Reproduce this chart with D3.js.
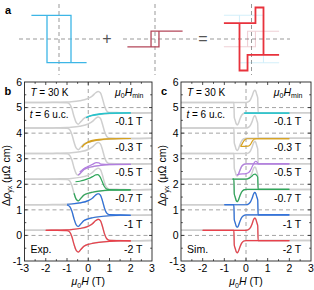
<!DOCTYPE html>
<html>
<head>
<meta charset="utf-8">
<script src="https://cdn.jsdelivr.net/npm/d3@7"></script>
<style>
  body { margin: 0; background: #fff; }
  text { font-family: "Liberation Sans", Arial, sans-serif; }
</style>
</head>
<body>
<script>
// ---- data ----

let hTicks = [-3, -2, -1, 0, 1, 2, 3];
let rhoTicks = [-1, 0, 1, 2, 3, 4, 5, 6];
let hminLabels = ["-0.1 T", "-0.3 T", "-0.5 T", "-0.7 T", "-1 T", "-2 T"];
let offsets = [5, 4, 3, 2, 1, 0];
let hminValues = [-0.1, -0.3, -0.5, -0.7, -1, -2];

// schematic loops (panel a), [H, M]
let loopBlue = [[-2.3, 1], [1, 1], [1, -1], [2.3, -1], [-1, -1], [-1, 1]];
let loopRed = [[-2.3, -0.33], [0.33, -0.33], [0.33, 0.33], [2.3, 0.33], [-0.33, 0.33], [-0.33, -0.33]];
let loopSum = [[-2.3, 0.67], [0.33, 0.67], [0.33, 1.33], [1, 1.33], [1, -0.67], [2.3, -0.67],
               [-0.33, -0.67], [-0.33, -1.33], [-1, -1.33], [-1, 0.67]];

// experiment, full loop (gray), relative to offset
let expFullUp = [[-3, 0.2], [-2, 0.2], [-1.5, 0.21], [-1, 0.22], [-0.8, 0.23], [-0.4, 0.27], [0, 0.36], [0.2, 0.46],
  [0.35, 0.58], [0.47, 0.63], [0.57, 0.58], [0.67, 0.35], [0.77, 0.05], [0.87, -0.13], [1, -0.19], [1.5, -0.2], [2, -0.21], [3, -0.2]];
let expFullDown = [[-3, 0.2], [-2, 0.2], [-1.5, 0.2], [-1, 0.19], [-0.87, 0.13], [-0.77, -0.05], [-0.67, -0.35],
  [-0.57, -0.58], [-0.47, -0.65], [-0.35, -0.55], [-0.2, -0.42], [0, -0.35], [0.2, -0.31], [0.5, -0.27], [1, -0.23], [1.5, -0.21], [2, -0.21], [3, -0.2]];

// experiment, minor loops
let expCyanUp = [[-0.1, -0.4], [0, -0.35], [0.2, -0.29], [0.5, -0.25], [1, -0.22], [2, -0.21]];
let expCyanDown = [[-0.1, -0.4], [0, -0.36], [0.2, -0.31], [0.5, -0.27], [1, -0.23], [2, -0.21]];
let expGoldUp = [[-0.3, -0.55], [-0.2, -0.46], [0, -0.34], [0.2, -0.28], [0.5, -0.24], [1, -0.22], [2, -0.21]];
let expGoldDown = [[-0.3, -0.55], [-0.2, -0.45], [0, -0.36], [0.2, -0.31], [0.5, -0.27], [1, -0.23], [2, -0.21]];
let expPurpleUp = [[-0.52, -0.63], [-0.4, -0.52], [-0.2, -0.38], [0, -0.3], [0.2, -0.22], [0.38, -0.15], [0.5, -0.16],
  [0.6, -0.21], [1, -0.22], [2, -0.22]];
let expPurpleDown = [[-0.52, -0.63], [-0.47, -0.64], [-0.35, -0.55], [-0.2, -0.42], [0, -0.35], [0.2, -0.31],
  [0.5, -0.27], [1, -0.23], [2, -0.22]];
let expGreenUp = [[-0.78, 0.1], [-0.6, 0.1], [-0.4, 0.12], [-0.2, 0.16], [0, 0.22], [0.2, 0.3], [0.35, 0.37],
  [0.45, 0.38], [0.55, 0.3], [0.65, 0.12], [0.75, -0.08], [0.85, -0.18], [1, -0.21], [2, -0.22]];
let expGreenDown = [[-0.78, 0.1], [-0.75, -0.05], [-0.67, -0.35], [-0.57, -0.58], [-0.47, -0.65], [-0.35, -0.55],
  [-0.2, -0.42], [0, -0.35], [0.2, -0.31], [0.5, -0.27], [1, -0.23], [2, -0.22]];

// simulation, full loop (gray)
let simFullUp = [[-3, 0.2], [-2, 0.2], [-1, 0.2], [0, 0.2], [0.1, 0.22], [0.2, 0.3], [0.28, 0.45], [0.35, 0.62],
  [0.4, 0.68], [0.45, 0.64], [0.5, 0.5], [0.54, 0.38], [0.56, -0.2], [1, -0.2], [2, -0.2], [3, -0.2]];
let simFullDown = [[-3, 0.2], [-2, 0.2], [-1, 0.2], [-0.56, 0.2], [-0.54, -0.38], [-0.5, -0.5], [-0.45, -0.64],
  [-0.4, -0.68], [-0.35, -0.62], [-0.28, -0.45], [-0.2, -0.3], [-0.1, -0.22], [0, -0.2], [1, -0.2], [2, -0.2], [3, -0.2]];

// simulation, minor loops
let simCyanUp = [[-0.08, -0.22], [2, -0.22]];
let simCyanDown = [[-0.08, -0.22], [2, -0.22]];
let simGoldUp = [[-0.25, -0.52], [0.1, -0.51], [0.2, -0.45], [0.3, -0.3], [0.4, -0.23], [0.5, -0.22], [2, -0.22]];
let simGoldDown = [[-0.25, -0.52], [-0.2, -0.45], [-0.1, -0.3], [0, -0.23], [0.05, -0.22], [2, -0.22]];
let simPurpleUp = [[-0.42, -0.64], [-0.3, -0.6], [0, -0.58], [0.15, -0.52], [0.25, -0.38], [0.35, -0.2],
  [0.45, -0.1], [0.52, -0.14], [0.56, -0.2], [2, -0.2]];
let simPurpleDown = [[-0.42, -0.64], [-0.35, -0.6], [-0.28, -0.45], [-0.2, -0.3], [-0.1, -0.22], [0, -0.2], [2, -0.2]];
let simGreenUp = [[-0.62, 0.2], [0, 0.2], [0.15, 0.24], [0.25, 0.3], [0.35, 0.38], [0.42, 0.4], [0.48, 0.36],
  [0.54, 0.28], [0.56, -0.2], [2, -0.2]];
let simGreenDown = [[-0.62, 0.2], [-0.56, 0.2], [-0.54, -0.38], [-0.5, -0.5], [-0.45, -0.64], [-0.4, -0.68],
  [-0.35, -0.62], [-0.28, -0.45], [-0.2, -0.3], [-0.1, -0.22], [0, -0.2], [2, -0.2]];

let lineColors = ["#27c3cc", "#d6a11e", "#b27ee0", "#2fa65a", "#2b6fdb", "#e8414b"];

// ---- svg ----

let svgWidth = 314;
let svgHeight = 290;

let svg = d3.select("body")
  .append("svg")
  .attr("width", svgWidth)
  .attr("height", svgHeight);

// ---- panel a: schematic ----

svg.append("text")
  .attr("x", 5).attr("y", 14)
  .attr("font-size", 11).attr("font-weight", "bold")
  .text("a");

let sx = d3.scaleLinear().domain([-1, 1]).range([-12, 12]);
let sy = d3.scaleLinear().domain([-1, 1]).range([23.7, -23.7]);
let schemLine = d3.line().x(d => sx(d[0])).y(d => sy(d[1]));

function schematic(cx, dashFrom, dashTo, loops) {
  let g = svg.append("g").attr("transform", `translate(${cx}, 39)`);
  g.append("line")
    .attr("x1", 0).attr("x2", 0).attr("y1", -35).attr("y2", 36)
    .attr("stroke", "#999").attr("stroke-width", 1).attr("stroke-dasharray", "4,3");
  g.append("line")
    .attr("x1", dashFrom - cx).attr("x2", dashTo - cx).attr("y1", 0).attr("y2", 0)
    .attr("stroke", "#999").attr("stroke-width", 1).attr("stroke-dasharray", "4,3");
  loops.forEach(l => {
    g.append("path")
      .attr("d", schemLine(l.data))
      .attr("fill", "none")
      .attr("stroke", l.color)
      .attr("stroke-width", l.width)
      .attr("opacity", l.opacity);
  });
}

schematic(59, 19, 102, [{ data: loopBlue, color: "#3db6e6", width: 1.3, opacity: 1 }]);
schematic(155, 123, 197, [{ data: loopRed, color: "#b4475a", width: 1.3, opacity: 1 }]);
schematic(251.5, 210, 290, [
  { data: loopBlue, color: "#3db6e6", width: 1.1, opacity: 0.22 },
  { data: loopRed, color: "#c0485a", width: 1.1, opacity: 0.25 },
  { data: loopSum, color: "#e8323c", width: 1.8, opacity: 1 }
]);

svg.append("text")
  .attr("x", 107).attr("y", 43.5)
  .attr("text-anchor", "middle")
  .attr("font-size", 16).attr("fill", "#555")
  .text("+");
svg.append("text")
  .attr("x", 203).attr("y", 44)
  .attr("text-anchor", "middle")
  .attr("font-size", 16).attr("fill", "#555")
  .text("=");

// ---- panels b and c ----

function panel(left, right, letter, tag, full, minors) {
  let x = d3.scaleLinear().domain([-3, 3]).range([left, right]);
  let y = d3.scaleLinear().domain([-1, 6]).range([261, 82]);
  let g = svg.append("g");

  // dashed guides
  g.selectAll(".hgrid")
    .data([0, 1, 2, 3, 4, 5])
    .enter().append("line")
    .attr("x1", left).attr("x2", right)
    .attr("y1", d => y(d)).attr("y2", d => y(d))
    .attr("stroke", "#9a9a9a").attr("stroke-width", 0.9).attr("stroke-dasharray", "4,3");
  g.append("line")
    .attr("x1", x(0)).attr("x2", x(0)).attr("y1", y(6)).attr("y2", y(-1))
    .attr("stroke", "#9a9a9a").attr("stroke-width", 0.9).attr("stroke-dasharray", "4,3");

  let line = d3.line()
    .x(d => x(d[0]))
    .y(d => y(d[1]))
    .curve(d3.curveMonotoneX);

  // gray full loops
  offsets.forEach(off => {
    [full.up, full.down].forEach(br => {
      g.append("path")
        .attr("d", line(br.map(p => [p[0], p[1] + off])))
        .attr("fill", "none")
        .attr("stroke", "#cfcfcf")
        .attr("stroke-width", 1.5);
    });
  });

  // colored minor loops
  minors.forEach((m, i) => {
    let off = offsets[i];
    [m.up, m.down].forEach(br => {
      g.append("path")
        .attr("d", line(br.filter(p => p[0] >= hminValues[i] && p[0] <= 2).map(p => [p[0], p[1] + off])))
        .attr("fill", "none")
        .attr("stroke", lineColors[i])
        .attr("stroke-width", 1.2);
    });
    g.append("text")
      .attr("x", x(2.55)).attr("y", y(off - 0.55))
      .attr("dy", "0.35em")
      .attr("text-anchor", "end")
      .attr("font-size", 10.5)
      .text(hminLabels[i]);
  });

  // frame
  g.append("rect")
    .attr("x", left).attr("y", y(6))
    .attr("width", right - left).attr("height", y(-1) - y(6))
    .attr("fill", "none").attr("stroke", "#222").attr("stroke-width", 0.9);

  let xMinor = d3.range(-2.5, 3, 0.5);
  let yMinor = d3.range(-0.5, 6, 0.5);
  xMinor.forEach(v => {
    let len = Number.isInteger(v) ? 3 : 1.8;
    g.append("line").attr("x1", x(v)).attr("x2", x(v)).attr("y1", y(-1)).attr("y2", y(-1) - len)
      .attr("stroke", "#222").attr("stroke-width", 0.8);
    g.append("line").attr("x1", x(v)).attr("x2", x(v)).attr("y1", y(6)).attr("y2", y(6) + len)
      .attr("stroke", "#222").attr("stroke-width", 0.8);
  });
  yMinor.forEach(v => {
    let len = Number.isInteger(v) ? 3 : 1.8;
    g.append("line").attr("x1", left).attr("x2", left + len).attr("y1", y(v)).attr("y2", y(v))
      .attr("stroke", "#222").attr("stroke-width", 0.8);
    g.append("line").attr("x1", right).attr("x2", right - len).attr("y1", y(v)).attr("y2", y(v))
      .attr("stroke", "#222").attr("stroke-width", 0.8);
  });

  // tick labels
  g.selectAll(".xt")
    .data(hTicks)
    .enter().append("text")
    .attr("x", d => x(d)).attr("y", y(-1) + 11)
    .attr("text-anchor", "middle")
    .attr("font-size", 10.5)
    .text(d => d);
  g.selectAll(".yt")
    .data(rhoTicks)
    .enter().append("text")
    .attr("x", left - 2.5).attr("y", d => y(d))
    .attr("dy", "0.35em")
    .attr("text-anchor", "end")
    .attr("font-size", 10.5)
    .text(d => d);

  // axis titles
  let xt = g.append("text")
    .attr("x", (left + right) / 2).attr("y", 285)
    .attr("text-anchor", "middle")
    .attr("font-size", 10.5);
  xt.append("tspan").attr("font-style", "italic").text("μ");
  xt.append("tspan").attr("font-size", 7).attr("dy", 2.5).text("0");
  xt.append("tspan").attr("font-style", "italic").attr("dy", -2.5).text("H");
  xt.append("tspan").text(" (T)");

  let yt = g.append("text")
    .attr("transform", `translate(${left - 15}, ${(y(-1) + y(6)) / 2 + 4}) rotate(-90)`)
    .attr("text-anchor", "middle")
    .attr("font-size", 10.5);
  yt.append("tspan").text("Δ");
  yt.append("tspan").attr("font-style", "italic").text("ρ");
  yt.append("tspan").attr("font-size", 7).attr("dy", 2.5).text("yx");
  yt.append("tspan").attr("dy", -2.5).text(" (μΩ cm)");

  // annotations
  let t1 = g.append("text").attr("x", x(-2.72)).attr("y", y(5.6)).attr("dy", "0.35em").attr("font-size", 10);
  t1.append("tspan").attr("font-style", "italic").text("T");
  t1.append("tspan").text(" = 30 K");
  let t2 = g.append("text").attr("x", x(-2.75)).attr("y", y(4.72)).attr("dy", "0.35em").attr("font-size", 10);
  t2.append("tspan").attr("font-style", "italic").text("t");
  t2.append("tspan").text(" = 6 u.c.");

  let hm = g.append("text").attr("x", x(2.6)).attr("y", y(5.6)).attr("dy", "0.35em")
    .attr("text-anchor", "end").attr("font-size", 10.5);
  hm.append("tspan").attr("font-style", "italic").text("μ");
  hm.append("tspan").attr("font-size", 7).attr("dy", 2.5).text("0");
  hm.append("tspan").attr("font-style", "italic").attr("dy", -2.5).text("H");
  hm.append("tspan").attr("font-size", 7).attr("dy", 2.5).text("min");

  g.append("text").attr("x", x(-2.72)).attr("y", y(-0.55)).attr("dy", "0.35em")
    .attr("font-size", 10.5).text(tag);

  svg.append("text")
    .attr("x", left - 20).attr("y", 95)
    .attr("font-size", 11).attr("font-weight", "bold")
    .text(letter);
}

panel(24.5, 152, "b", "Exp.", { up: expFullUp, down: expFullDown }, [
  { up: expCyanUp, down: expCyanDown },
  { up: expGoldUp, down: expGoldDown },
  { up: expPurpleUp, down: expPurpleDown },
  { up: expGreenUp, down: expGreenDown },
  { up: expFullUp, down: expFullDown },
  { up: expFullUp, down: expFullDown }
]);

panel(181, 311, "c", "Sim.", { up: simFullUp, down: simFullDown }, [
  { up: simCyanUp, down: simCyanDown },
  { up: simGoldUp, down: simGoldDown },
  { up: simPurpleUp, down: simPurpleDown },
  { up: simGreenUp, down: simGreenDown },
  { up: simFullUp, down: simFullDown },
  { up: simFullUp, down: simFullDown }
]);
</script>
</body>
</html>
